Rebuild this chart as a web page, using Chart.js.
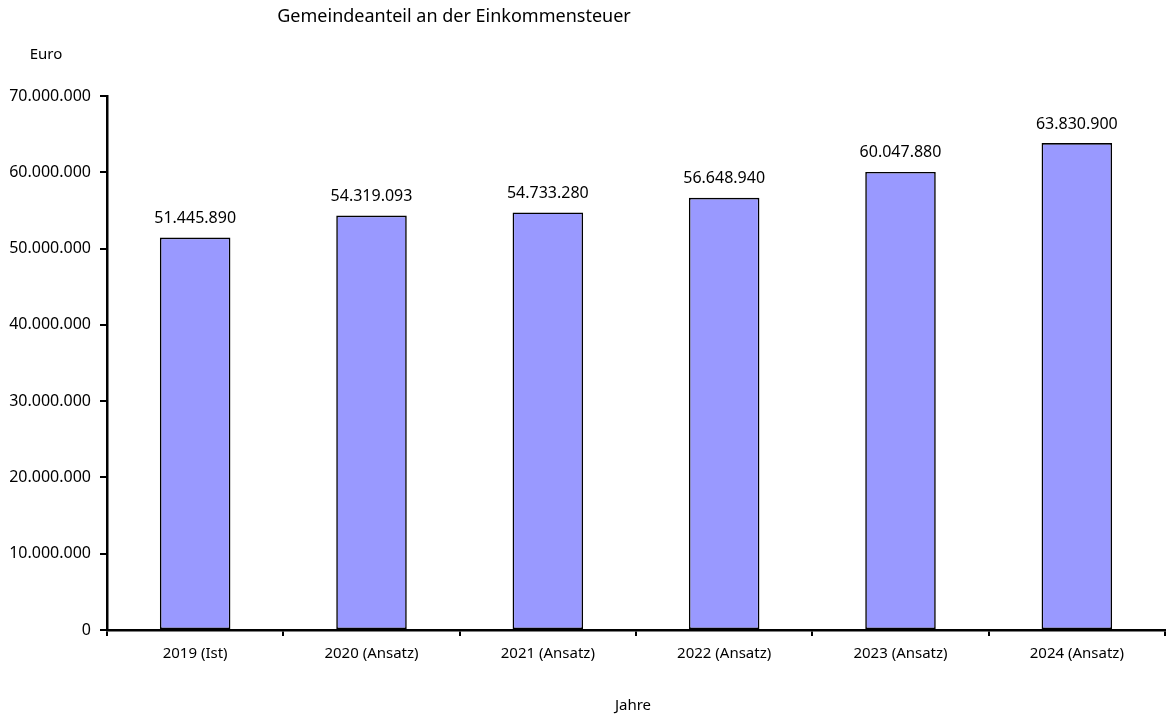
<!DOCTYPE html>
<html>
<head>
<meta charset="utf-8">
<script src="https://cdn.jsdelivr.net/npm/chart.js@4/dist/chart.umd.min.js"></script>
<style>
  html, body { margin: 0; padding: 0; background: #fff; }
</style>
</head>
<body>
<canvas id="myChart" width="1168" height="715" style="width:1168px;height:715px;"></canvas>
<script>
// Jahre und Beträge (Euro)
var years = ['2019 (Ist)', '2020 (Ansatz)', '2021 (Ansatz)', '2022 (Ansatz)', '2023 (Ansatz)', '2024 (Ansatz)'];
var amounts = [51445890, 54319093, 54733280, 56648940, 60047880, 63830900];
var yMax = 70000000;
var yStep = 10000000;

var FONT = '"Noto Sans", "DejaVu Sans", sans-serif';

function fmt(v) {
  return Math.round(v).toString().replace(/\B(?=(\d{3})+(?!\d))/g, '.');
}

// Titel, Achsentitel und Werte über den Balken
var textPlugin = {
  id: 'texts',
  afterDatasetsDraw: function (chart) {
    var c = chart.ctx;
    c.save();
    c.fillStyle = '#000';
    c.textAlign = 'center';
    c.textBaseline = 'middle';
    c.font = '18px ' + FONT;
    c.fillText('Gemeindeanteil an der Einkommensteuer', 454, 17);
    c.font = '15px ' + FONT;
    c.fillText('Euro', 46, 55);
    c.fillText('Jahre', 633, 706);
    c.font = '16px ' + FONT;
    chart.getDatasetMeta(0).data.forEach(function (bar, i) {
      c.fillText(fmt(amounts[i]), bar.x, bar.y - 19);
    });
    c.restore();
  }
};

var ctx = document.getElementById('myChart').getContext('2d');

var myChart = new Chart(ctx, {
  type: 'bar',
  data: {
    labels: years,
    datasets: [{
      data: amounts,
      backgroundColor: '#9999ff',
      borderColor: '#000',
      borderWidth: 1.6,
      borderSkipped: false,
      categoryPercentage: 1,
      barPercentage: 0.4
    }]
  },
  options: {
    responsive: false,
    animation: false,
    layout: { padding: { top: 96, right: 3, left: 0, bottom: 0 } },
    plugins: {
      legend: { display: false },
      tooltip: { enabled: false }
    },
    scales: {
      x: {
        offset: true,
        afterFit: function (s) { s.height = 85; },
        grid: { offset: true, drawOnChartArea: false, color: '#000', lineWidth: 2, tickLength: 6 },
        border: { color: '#000', width: 2.5 },
        ticks: { color: '#000', font: { family: FONT, size: 15 }, padding: 9, maxRotation: 0 }
      },
      y: {
        min: 0,
        max: yMax,
        afterFit: function (s) { s.width = 107; },
        grid: { drawOnChartArea: false, color: '#000', lineWidth: 2, tickLength: 7 },
        border: { color: '#000', width: 2.5 },
        ticks: {
          stepSize: yStep,
          color: '#000',
          font: { family: FONT, size: 16 },
          padding: 9,
          callback: function (v) { return fmt(v); }
        }
      }
    }
  },
  plugins: [textPlugin]
});
</script>
</body>
</html>
